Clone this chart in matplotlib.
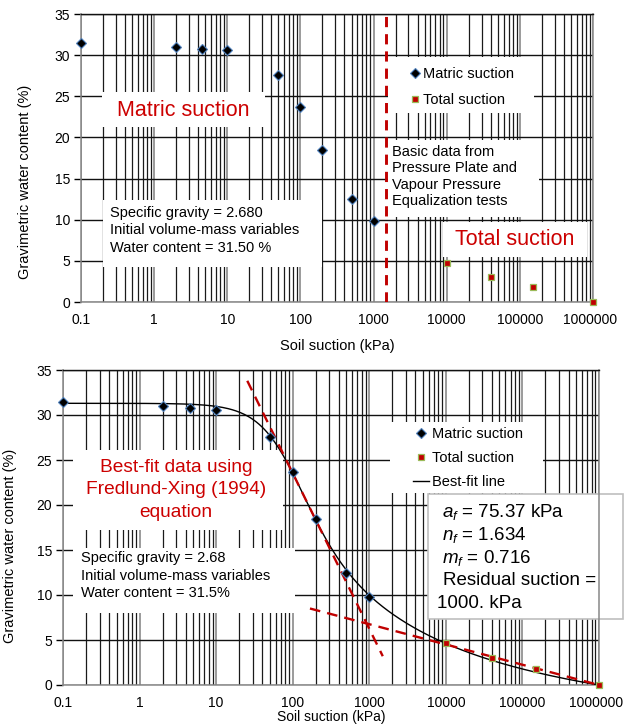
import numpy as np
import matplotlib
matplotlib.use("Agg")
import matplotlib.pyplot as plt
from matplotlib.patches import Rectangle
from matplotlib.transforms import ScaledTranslation
from matplotlib.ticker import LogLocator, NullFormatter, FixedLocator, FixedFormatter

plt.rcParams['font.family'] = ['Liberation Sans', 'DejaVu Sans']
plt.rcParams['mathtext.fontset'] = 'custom'
plt.rcParams['mathtext.rm'] = 'Liberation Sans'
plt.rcParams['mathtext.it'] = 'Liberation Sans:italic'

# ---------------- data ----------------
matric_suction_kpa = [0.1, 2, 4.5, 10, 50, 100, 200, 500, 1000]
matric_water = [31.5, 31.0, 30.8, 30.6, 27.6, 23.7, 18.5, 12.5, 9.8]
total_suction_kpa = [10000, 40000, 150000, 1000000]
total_water = [4.7, 3.0, 1.8, 0.0]

boundary_suction_kpa = 1500

# Fredlund-Xing (1994) best-fit parameters (shown on chart)
a_f = 75.37
n_f = 1.634
m_f = 0.716
psi_r = 1000.0
w_sat = 31.3

# tangent lines
steep_x = [25.5, 1500]
steep_y = [33.8, 3.2]
shallow_x = [168, 1000000]
shallow_y = [8.5, 0.0]

x_ticks = [0.1, 1, 10, 100, 1000, 10000, 100000, 1000000]
x_tick_labels = ['0.1', '1', '10', '100', '1000', '10000', '100000', '1000000']
y_ticks = [0, 5, 10, 15, 20, 25, 30, 35]

# ---------------- figure ----------------
W, H = 624, 726
fig = plt.figure(figsize=(W / 100, H / 100), dpi=100)


def fx(x):
    return x / W


def fy(y):
    return 1 - y / H


ax1 = fig.add_axes([fx(81), fy(302), 512 / W, 288 / H])
ax2 = fig.add_axes([fx(63), fy(685), 536 / W, 315 / H])

RED = '#C00000'
TXT_RED = '#CC0000'


def style_axes(ax, ylab_coords):
    ax.set_xscale('log')
    ax.set_xlim(0.1, 1e6)
    ax.set_ylim(0, 35)
    ax.set_axisbelow(True)
    ax.xaxis.set_major_locator(FixedLocator(x_ticks))
    ax.xaxis.set_major_formatter(FixedFormatter(x_tick_labels))
    ax.xaxis.set_minor_locator(LogLocator(base=10, subs=np.arange(2, 10)))
    ax.xaxis.set_minor_formatter(NullFormatter())
    ax.set_yticks(y_ticks)
    ax.tick_params(axis='x', which='both', length=0, pad=8, labelsize=10)
    ax.tick_params(axis='y', which='major', length=5, width=1, color='black',
                   direction='out', pad=3, labelsize=10)
    ax.grid(True, which='major', axis='x', color='#808080', lw=1.1)
    ax.grid(True, which='minor', axis='x', color='#1a1a1a', lw=0.9)
    ax.grid(True, which='major', axis='y', color='#111111', lw=1.0)
    for s in ['left', 'bottom', 'right']:
        ax.spines[s].set_color('#888888')
        ax.spines[s].set_linewidth(1.1)
    ax.spines['top'].set_color('#111111')
    ax.spines['top'].set_linewidth(1.0)
    ax.set_xlabel('Soil suction (kPa)', fontsize=10.5)
    ax.set_ylabel('Gravimetric water content (%)', fontsize=10.5)
    ax.yaxis.set_label_coords(*ylab_coords)
    # nudge the last tick label slightly left so it stays inside the figure
    last = ax.get_xticklabels()[-1]
    last.set_transform(last.get_transform() +
                       ScaledTranslation(-3 / 100, 0, fig.dpi_scale_trans))


style_axes(ax1, (-0.096, 0.417))
style_axes(ax2, (-0.086, 0.441))
ax1.xaxis.set_label_coords(0.5, -0.128)
ax2.xaxis.label.set_fontsize(10)
ax2.xaxis.set_label_coords(0.5, -0.08)


def white_box(ax, x0, y0, x1, y1, edge='none'):
    r = Rectangle((fx(x0), fy(y1)), (x1 - x0) / W, (y1 - y0) / H,
                  transform=fig.transFigure, facecolor='white',
                  edgecolor=edge, lw=1.2, zorder=1.5, clip_on=False)
    ax.add_patch(r)


# ---------------- top chart ----------------
white_box(ax1, 102, 92, 265, 127)
white_box(ax1, 103, 200, 322, 267)
white_box(ax1, 388, 57, 534, 113)
white_box(ax1, 388, 140, 539, 217)
white_box(ax1, 443, 222, 587, 257)

ax1.axvline(boundary_suction_kpa, color=RED, lw=2.1, dashes=(3.5, 2.4), zorder=3)
m1, = ax1.plot(matric_suction_kpa, matric_water, linestyle='none', marker='D',
               ms=4.8, mfc='black', mec='#4F81BD', mew=0.8, zorder=4,
               clip_on=False, label='Matric suction')
t1, = ax1.plot(total_suction_kpa, total_water, linestyle='none', marker='s',
               ms=5.0, mfc='#C00000', mec='#9BBB59', mew=0.9, zorder=4,
               clip_on=False, label='Total suction')
ax1.legend(handles=[m1, t1], loc='upper left',
           bbox_to_anchor=(fx(409), fy(67)), bbox_transform=fig.transFigure,
           frameon=False, fontsize=10.5, handlelength=0.8, handletextpad=0.15,
           labelspacing=0.82, borderpad=0, borderaxespad=0, numpoints=1)

fig.text(fx(183), fy(110), 'Matric suction', ha='center', va='center',
         color=TXT_RED, fontsize=15.5, zorder=5)
fig.text(fx(515), fy(239), 'Total suction', ha='center', va='center',
         color=TXT_RED, fontsize=15.5, zorder=5)

spec_top = ['Specific gravity = 2.680', 'Initial volume-mass variables',
            'Water content = 31.50 %']
for i, s in enumerate(spec_top):
    fig.text(fx(110), fy(213 + i * 17.5), s, ha='left', va='center',
             fontsize=10.5, zorder=5)

basic_lines = ['Basic data from', 'Pressure Plate and', 'Vapour Pressure',
               'Equalization tests']
for i, s in enumerate(basic_lines):
    fig.text(fx(392), fy(152 + i * 16.5), s, ha='left', va='center',
             fontsize=10.5, zorder=5)

# ---------------- bottom chart ----------------
white_box(ax2, 73, 450, 283, 530)
white_box(ax2, 73, 548, 295, 613)
white_box(ax2, 390, 422, 543, 493)
white_box(ax2, 428, 494, 623, 619, edge='#BFBFBF')

psi = np.logspace(-1, 6, 400)
corr = 1 - np.log(1 + psi / psi_r) / np.log(1 + 1e6 / psi_r)
w_fit = corr * w_sat / np.log(np.e + (psi / a_f) ** n_f) ** m_f

fit2, = ax2.plot(psi, w_fit, color='black', lw=1.0, zorder=3, label='Best-fit line')
ax2.plot(steep_x, steep_y, color=RED, lw=1.7, dashes=(4.5, 3), zorder=3.2)
ax2.plot(shallow_x, shallow_y, color=RED, lw=1.7, dashes=(4.5, 3), zorder=3.2)
m2, = ax2.plot(matric_suction_kpa, matric_water, linestyle='none', marker='D',
               ms=4.8, mfc='black', mec='#4F81BD', mew=0.8, zorder=4,
               clip_on=False, label='Matric suction')
t2, = ax2.plot(total_suction_kpa, total_water, linestyle='none', marker='s',
               ms=5.0, mfc='#C00000', mec='#9BBB59', mew=0.9, zorder=4,
               clip_on=False, label='Total suction')
ax2.legend(handles=[m2, t2, fit2], loc='upper left',
           bbox_to_anchor=(fx(413), fy(427)), bbox_transform=fig.transFigure,
           frameon=False, fontsize=10.5, handlelength=1.1, handletextpad=0.2,
           labelspacing=0.68, borderpad=0, borderaxespad=0, numpoints=1)

bestfit_lines = ['Best-fit data using', 'Fredlund-Xing (1994)', 'equation']
for i, s in enumerate(bestfit_lines):
    fig.text(fx(176), fy(467 + i * 22.7), s, ha='center', va='center',
             color=TXT_RED, fontsize=13.8, zorder=5)

spec_bot = ['Specific gravity = 2.68', 'Initial volume-mass variables',
            'Water content = 31.5%']
for i, s in enumerate(spec_bot):
    fig.text(fx(81), fy(558 + i * 17.5), s, ha='left', va='center',
             fontsize=10.5, zorder=5)

param_lines = [r'$a_f$ = 75.37 kPa', r'$n_f$ = 1.634', r'$m_f$ = 0.716',
               'Residual suction =', '1000. kPa']
param_x = [442, 442, 442, 443, 437]
for i, s in enumerate(param_lines):
    fig.text(fx(param_x[i]), fy(512 + i * 22.8), s, ha='left', va='center',
             fontsize=13.5, zorder=5)

fig.savefig('out.png', dpi=100)
